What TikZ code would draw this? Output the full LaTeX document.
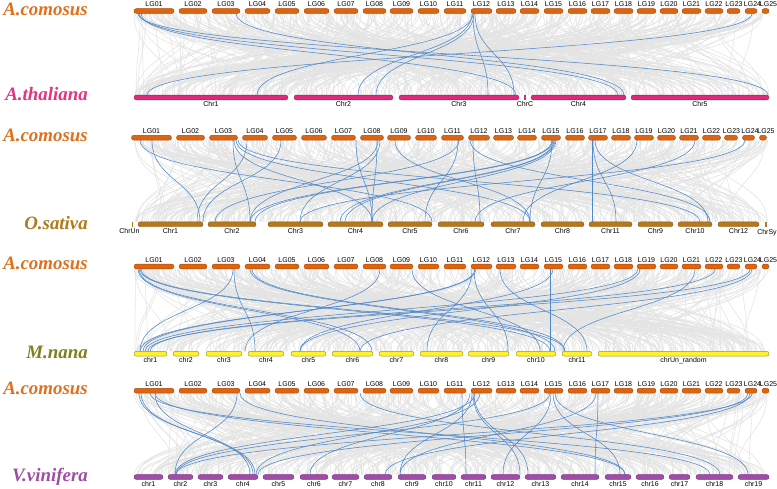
\documentclass[tikz,border=0pt]{standalone}
\usepackage{fontspec}
\newfontfamily\labfont{Liberation Sans}
\newfontfamily\spfont{Liberation Serif}
\definecolor{acfill}{HTML}{DF640F}
\definecolor{acdraw}{HTML}{A84A08}
\definecolor{actext}{HTML}{E0701E}
\definecolor{atfill}{HTML}{E0287A}
\definecolor{atdraw}{HTML}{A81C5A}
\definecolor{attext}{HTML}{E5337E}
\definecolor{osfill}{HTML}{B5781E}
\definecolor{osdraw}{HTML}{855812}
\definecolor{ostext}{HTML}{B07A1A}
\definecolor{mnfill}{HTML}{FFF226}
\definecolor{mndraw}{HTML}{9A9030}
\definecolor{mntext}{HTML}{7F7F1F}
\definecolor{vvfill}{HTML}{A04CA8}
\definecolor{vvdraw}{HTML}{783680}
\definecolor{vvtext}{HTML}{9E4EA6}
\definecolor{bluel}{HTML}{5088C8}
\definecolor{greyl}{HTML}{E4E4E4}
\newcommand\aclist{134/174/154/LG01, 179/207/193/LG02, 212/240/226/LG03, 245/270/257.5/LG04, 275/299/287/LG05, 304/329/316.5/LG06, 334/358/346/LG07, 363/386/374.5/LG08, 390/413/401.5/LG09, 418/439/428.5/LG10, 444/466/455/LG11, 471/492/481.5/LG12, 496/516/506/LG13, 520/539/529.5/LG14, 544/563/553.5/LG15, 568/587/577.5/LG16, 591/610/600.5/LG17, 614/633/623.5/LG18, 637/656/646.5/LG19, 660/678/669/LG20, 682/701/691.5/LG21, 705/723/714/LG22, 727/740/734/LG23, 745/757/752.5/LG24, 762/769/768.5/LG25}
\newcommand\topbars[2]{%
  \foreach \a/\b/\l/\t in \aclist {%
    \draw[acbar] (\a,#1-2.4) rectangle (\b,#1+2.4);
    \node[lgl] (#2\t) at (\l,#1-4.5) {\t};}}
\newcommand\botbars[4]{% y, style, prefix, list
  \foreach \a/\b/\t in {#4} {%
    \draw[#2] (\a,#1-2.4) rectangle (\b,#1+2.4);
    \node[chl] (#3\t) at ({(\a+\b)/2},#1+9) {\t};}}
\newcommand\greylinks[4]{%
  \pgfmathsetseed{#3}%
  \foreach \i in {1,...,#4}{%
    \pgfmathsetmacro\ga{134+635*rnd}%
    \pgfmathsetmacro\gb{134+635*rnd}%
    \draw[greylink] (\ga,#1) .. controls (\ga,{(#1+#2)/2}) and (\gb,{(#1+#2)/2}) .. (\gb,#2);}}
\newcommand\bluelinks[3]{%
  \foreach \a/\b in {#3}{%
    \draw[bluelink] (\a,#1) .. controls (\a,{(#1+#2)/2}) and (\b,{(#1+#2)/2}) .. (\b,#2);}}
\begin{document}
\begin{tikzpicture}[x=1pt,y=-1pt,
  acbar/.style={fill=acfill,draw=acdraw,line width=0.4pt,rounded corners=2.3pt},
  atbar/.style={fill=atfill,draw=atdraw,line width=0.4pt,rounded corners=2.3pt},
  osbar/.style={fill=osfill,draw=osdraw,line width=0.4pt,rounded corners=2.3pt},
  mnbar/.style={fill=mnfill,draw=mndraw,line width=0.4pt,rounded corners=2.3pt},
  vvbar/.style={fill=vvfill,draw=vvdraw,line width=0.4pt,rounded corners=2.3pt},
  lgl/.style={font=\labfont\fontsize{7}{8}\selectfont,anchor=base,inner sep=0pt},
  chl/.style={font=\labfont\fontsize{7}{8}\selectfont,anchor=base,inner sep=0pt},
  spl/.style={font=\spfont\bfseries\itshape\fontsize{18.9}{22}\selectfont,anchor=base east,inner sep=0pt},
  greylink/.style={draw=greyl,line width=0.55pt},
  bluelink/.style={draw=bluel,line width=0.55pt}]
\useasboundingbox (0,0) rectangle (777,488);
\fill[white] (0,0) rectangle (777,488);
% grey background links
\greylinks{13.4}{95.1}{11}{480}
\greylinks{140.1}{221.9}{22}{480}
\greylinks{268.9}{351.3}{33}{480}
\greylinks{393.1}{474.6}{44}{480}
% blue links
\bluelinks{13.4}{95.1}{138/768, 139/618, 141/516, 236/624, 473/257, 472/358, 474/376, 473/488, 475/514, 752/147}
\bluelinks{140.1}{221.9}{152/200, 140/432, 233/250, 234/372, 236/530, 238/700, 247/197, 281/203, 378/250, 377/372, 380/300, 356/372, 552/250, 553/255, 554/340, 555/345, 556/372, 552/530, 458/425, 459/215, 470/710, 473/480, 592/592, 593/616, 595/708, 637/523, 695/475, 745/300, 395/530}
\bluelinks{268.9}{351.3}{138/360, 139/372, 140/550, 141/565, 233/140, 234/255, 250/555, 252/565, 380/245, 475/140, 476/143, 472/427, 474/508, 500/587, 412/540, 550/550, 553/300, 638/145, 695/563, 715/150, 750/148, 752/360, 640/300}
\bluelinks{393.1}{474.6}{139/255, 141/253, 155/250, 155/625, 237/175, 240/625, 475/175, 550/176, 752/176, 480/256, 748/258, 360/720, 470/310, 462/466, 473/520, 474/528, 551/503, 553/620, 555/748, 598/595, 596/400, 150/710, 750/385, 472/400}
% panel 1
\topbars{11}{a}
\botbars{97.5}{atbar}{t}{134/288/Chr1, 294/393/Chr2, 399/519/Chr3, 531/626/Chr4, 631/769/Chr5}
\fill[atfill] (524,95.1) rectangle (526,99.9);
\node[chl] (tChrC) at (525,106.5) {ChrC};
\node[spl,text=actext] (sp1) at (88,15) {A.comosus};
\node[spl,text=attext] (sp2) at (88,100) {A.thaliana};
% panel 2
\begin{scope}[xshift=-2.5pt]
\topbars{137.7}{b}
\end{scope}
\botbars{224.3}{osbar}{o}{138/203/Chr1, 208/256/Chr2, 268/323/Chr3, 328/383/Chr4, 388/432/Chr5, 438/484/Chr6, 491/535/Chr7, 541/584/Chr8, 589/632/Chr11, 638/673/Chr9, 678/712/Chr10, 718/759/Chr12}
\fill[osfill] (131.5,221.9) rectangle (133,226.7);
\fill[osfill] (765,221.9) rectangle (766.5,226.7);
\node[chl] (oChrUn) at (129.5,233.3) {ChrUn};
\node[chl] (oChrSy) at (767,234.3) {ChrSy};
\node[spl,text=actext] (sp3) at (88,141) {A.comosus};
\node[spl,text=ostext] (sp4) at (88,229) {O.sativa};
% panel 3
\topbars{266.5}{c}
\botbars{353.7}{mnbar}{m}{134/167/chr1, 173/199/chr2, 206/242/chr3, 248/284/chr4, 291/326/chr5, 332/373/chr6, 379/414/chr7, 420/463/chr8, 468/509/chr9, 516/556/chr10, 562/592/chr11}
\draw[mnbar] (598,351.3) rectangle (769,356.1);
\node[chl] (mchrUn) at (683.5,362.7) {chrUn\_random};
\node[spl,text=actext] (sp5) at (88,269.5) {A.comosus};
\node[spl,text=mntext] (sp6) at (88,358) {M.nana};
% panel 4
\topbars{390.7}{d}
\botbars{477}{vvbar}{v}{134/163/chr1, 168/193/chr2, 198/223/chr3, 228/258/chr4, 263/294/chr5, 300/328/chr6, 332/359/chr7, 364/392/chr8, 398/426/chr9, 432/456/chr10, 461/486/chr11, 491/520/chr12, 525/556/chr13, 561/599/chr14, 605/631/chr15, 636/664/chr16, 669/690/chr17, 696/733/chr18, 738/769/chr19}
\node[spl,text=actext] (sp7) at (88,394) {A.comosus};
\node[spl,text=vvtext] (sp8) at (88,481.7) {V.vinifera};
\end{tikzpicture}
\end{document}
